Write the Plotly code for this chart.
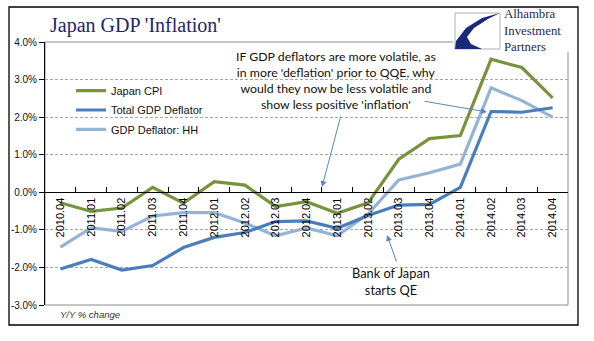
import plotly.graph_objects as go

categories = ["2010.04", "2011.01", "2011.02", "2011.03", "2011.04", "2012.01",
              "2012.02", "2012.03", "2012.04", "2013.01", "2013.02", "2013.03",
              "2013.04", "2014.01", "2014.02", "2014.03", "2014.04"]
japan_cpi = [-0.28, -0.51, -0.42, 0.13, -0.29, 0.28, 0.19, -0.38, -0.25, -0.56,
             -0.28, 0.88, 1.43, 1.51, 3.54, 3.32, 2.51]
total_gdp_deflator = [-2.04, -1.79, -2.07, -1.95, -1.47, -1.20, -1.07, -0.78, -0.76,
                      -0.96, -0.62, -0.34, -0.32, 0.13, 2.15, 2.13, 2.25]
gdp_deflator_hh = [-1.46, -0.95, -1.04, -0.63, -0.54, -0.54, -0.82, -1.16, -0.95,
                   -1.16, -0.58, 0.33, 0.52, 0.75, 2.78, 2.44, 2.00]
y_ticks = [-3, -2, -1, 0, 1, 2, 3, 4]

W, H = 594, 341
L, R, T, B = 45, 568, 42, 305


def px(x):
    return (x - L) / (R - L)


def py(y):
    return (B - y) / (B - T)


fig = go.Figure()
series = [("GDP Deflator: HH", gdp_deflator_hh, "#95B3D7", "legend3"),
          ("Total GDP Deflator", total_gdp_deflator, "#4A7EBB", "legend2"),
          ("Japan CPI", japan_cpi, "#77933C", "legend")]
for name, vals, col, lg in series:
    fig.add_trace(go.Scatter(x=categories, y=vals, name=name, mode="lines",
                             line=dict(color=col, width=3.2), legend=lg))

leg_font = dict(family="Liberation Sans, Arial", size=11, color="#111")
leg_common = dict(xanchor="left", yanchor="middle", bgcolor="rgba(0,0,0,0)",
                  font=leg_font, itemwidth=30, borderwidth=0)
fig.update_layout(
    legend=dict(x=px(71), y=py(90.7), **leg_common),
    legend2=dict(x=px(71), y=py(110), **leg_common),
    legend3=dict(x=px(71), y=py(129.3), **leg_common),
)

fig.update_layout(
    width=W, height=H,
    margin=dict(l=L, r=W - R, t=T, b=H - B, pad=0),
    paper_bgcolor="white", plot_bgcolor="white",
    showlegend=True,
    xaxis=dict(type="category", anchor="free", position=3 / 7,
               showline=True, linecolor="black", linewidth=1,
               ticks="inside", ticklen=5, tickcolor="black", tickson="boundaries",
               tickangle=-90, tickfont=dict(family="Liberation Sans, Arial", size=11, color="#000"),
               showgrid=False, zeroline=False, range=[-0.5, 16.5]),
    yaxis=dict(range=[-3, 4], tickvals=y_ticks, ticktext=[f"{v:.1f}%" for v in y_ticks],
               showline=True, linecolor="black", linewidth=1,
               ticks="outside", ticklen=5, tickcolor="black",
               tickfont=dict(family="Liberation Sans, Arial", size=10, color="#111"),
               showgrid=True, gridcolor="#A6A6A6", griddash="3px,2px", gridwidth=1,
               zeroline=False),
)

shapes = []
# plot area border
shapes.append(dict(type="rect", xref="paper", yref="paper", x0=0, y0=0, x1=1, y1=1,
                   line=dict(color="#8C8C8C", width=1), layer="below"))
# outer frame
shapes.append(dict(type="rect", xref="paper", yref="paper", x0=px(9), y0=py(325),
                   x1=px(578), y1=py(7), line=dict(color="black", width=1.3)))
# logo white box
shapes.append(dict(type="rect", xref="paper", yref="paper", x0=px(453), y0=py(52),
                   x1=px(572), y1=py(8.5), line=dict(width=0), fillcolor="white",
                   layer="above"))
# logo icon square
shapes.append(dict(type="rect", xref="paper", yref="paper", x0=px(455), y0=py(49),
                   x1=px(500), y1=py(13), line=dict(color="#B0B0B0", width=1),
                   fillcolor="white", layer="above"))
swoosh = [(500, 13), (482, 18), (466, 28), (456, 41), (455, 49), (482, 49),
          (471, 44), (467, 37), (474, 28), (488, 19)]
path = "M " + " L ".join(f"{px(a):.5f},{py(b):.5f}" for a, b in swoosh) + " Z"
shapes.append(dict(type="path", xref="paper", yref="paper", path=path,
                   fillcolor="#1A2A7A", line=dict(width=0), layer="above"))
fig.update_layout(shapes=shapes)

ann = []
ann.append(dict(text="Japan GDP 'Inflation'", xref="paper", yref="paper",
                x=px(48), y=py(25), xanchor="left", yanchor="middle", showarrow=False,
                font=dict(family="Liberation Serif, Times New Roman", size=20, color="#1F2470")))
ann.append(dict(text="Alhambra<br>Investment<br>Partners", xref="paper", yref="paper",
                x=px(502), y=py(31), xanchor="left", yanchor="middle", showarrow=False,
                align="left",
                font=dict(family="Liberation Serif, Times New Roman", size=12.8,
                          color="#1F2A5C")))
ann.append(dict(text="IF GDP deflators are more volatile, as<br>in more 'deflation' prior to QQE, why"
                     "<br>would they now be less volatile and<br>show less positive 'inflation'",
                xref="paper", yref="paper", x=px(336), y=py(80.5), xanchor="center",
                yanchor="middle", showarrow=False, align="center",
                font=dict(family="Lato, Open Sans", size=12.3, color="#111")))
ann.append(dict(text="Bank of Japan<br>starts QE", xref="paper", yref="paper",
                x=px(391), y=py(281.5), xanchor="center", yanchor="middle",
                showarrow=False, align="center",
                font=dict(family="Lato, Open Sans", size=12.8, color="#111")))
ann.append(dict(text="<i>Y/Y % change</i>", xref="paper", yref="paper", x=px(58),
                y=py(314), xanchor="left", yanchor="middle", showarrow=False,
                font=dict(family="Liberation Sans, Arial", size=9.5, color="#333")))
arrow_col = "#5B86C0"
for hx, hy, tx, ty in [(322, 187, 341, 115), (487, 112, 423, 101), (387, 235, 397, 263)]:
    ann.append(dict(text="", xref="paper", yref="paper", x=px(hx), y=py(hy),
                    axref="pixel", ayref="pixel", ax=tx - hx, ay=ty - hy,
                    showarrow=True, arrowhead=2, arrowsize=1.2, arrowwidth=1,
                    arrowcolor=arrow_col, standoff=0, startstandoff=0))
fig.update_layout(annotations=ann)

fig.write_html("out.html")
